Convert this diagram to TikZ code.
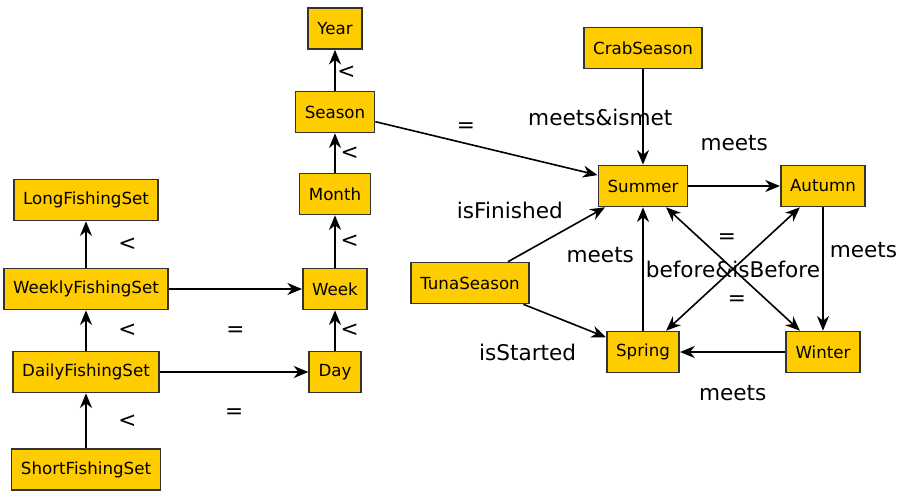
\documentclass[tikz,border=0pt]{standalone}
\usepackage{fontspec}
\setmainfont{DejaVu Sans}
\usetikzlibrary{arrows.meta}
\definecolor{boxfill}{HTML}{FFCC00}
\definecolor{boxline}{HTML}{333333}

\begin{document}
\begin{tikzpicture}[x=0.75pt, y=-0.75pt,
        every node/.style={font=\fontsize{12.5}{14}\selectfont},
        box/.style={draw=boxline, fill=boxfill, line width=1.2pt, minimum height=30.75pt, inner xsep=7pt, inner ysep=0pt},
        lbl/.style={font=\fontsize{16.2}{19}\selectfont, inner sep=0pt},
        arr/.style={-{Stealth[length=11pt,width=9pt,inset=3.5pt]}, line width=1.2pt},
        twoway/.style={{Stealth[length=11pt,width=9pt,inset=3.5pt]}-{Stealth[length=11pt,width=9pt,inset=3.5pt]}, line width=1.2pt}]
    \useasboundingbox (0,0) rectangle (904,490);
    % time scale
    \node[box] (year) at (335,28.5) {Year};
    \node[box] (season) at (335,112) {Season};
    \node[box] (month) at (335,194) {Month};
    \node[box] (week) at (335,289) {Week};
    \node[box] (day) at (335,372) {Day};
    \draw[arr] (season) -- node[lbl, xshift=8.5pt, yshift=-1.5pt] {<} (year);
    \draw[arr] (month) -- node[lbl, xshift=11pt] {<} (season);
    \draw[arr] (week) -- node[lbl, xshift=11pt] {<} (month);
    \draw[arr] (day) -- node[lbl, xshift=11pt] {<} (week);
    % fishing sets
    \node[box] (long) at (86,200) {LongFishingSet};
    \node[box] (weekly) at (86,289) {WeeklyFishingSet};
    \node[box] (daily) at (86,372) {DailyFishingSet};
    \node[box] (short) at (86,469.5) {ShortFishingSet};
    \draw[arr] (weekly) -- node[lbl, xshift=31pt] {<} (long);
    \draw[arr] (daily) -- node[lbl, xshift=31pt] {<} (weekly);
    \draw[arr] (short) -- node[lbl, xshift=31pt] {<} (daily);
    \draw[arr] (weekly) -- node[lbl, yshift=-32pt] {=} (week);
    \draw[arr] (daily) -- node[lbl, yshift=-31.5pt] {=} (day);
    % seasons
    \node[box] (crab) at (643,48) {CrabSeason};
    \node[box] (summer) at (643,186) {Summer};
    \node[box] (autumn) at (823,186) {Autumn};
    \node[box] (spring) at (643,352) {Spring};
    \node[box] (winter) at (823,352) {Winter};
    \node[box] (tuna) at (470,283) {TunaSeason};
    \draw[arr] (season) -- node[lbl, xshift=-15.4pt, yshift=15.3pt] {=} (summer);
    \draw[arr] (crab) -- node[lbl, xshift=-32pt] {meets\&ismet} (summer);
    \draw[arr] (summer) -- node[lbl, yshift=32pt] {meets} (autumn);
    \draw[arr] (autumn) -- node[lbl, xshift=30.4pt, yshift=14.3pt] {meets} (winter);
    \draw[arr] (winter) -- node[lbl, yshift=-30.75pt] {meets} (spring);
    \draw[arr] (spring) -- node[lbl, xshift=-32pt, yshift=10.5pt] {meets} (summer);
    \draw[twoway] (summer) -- node[lbl, xshift=-4.5pt, yshift=23pt] {=} (winter);
    \draw[twoway] (autumn) -- node[lbl] {before\&isBefore}
        node[lbl, xshift=3pt, yshift=-24pt] {=} (spring);
    \draw[arr] (tuna) -- node[lbl, xshift=-35pt, yshift=18.4pt] {isFinished} (summer);
    \draw[arr] (tuna) -- node[lbl, xshift=-27.75pt, yshift=-23.6pt] {isStarted} (spring);
\end{tikzpicture}
\end{document}
